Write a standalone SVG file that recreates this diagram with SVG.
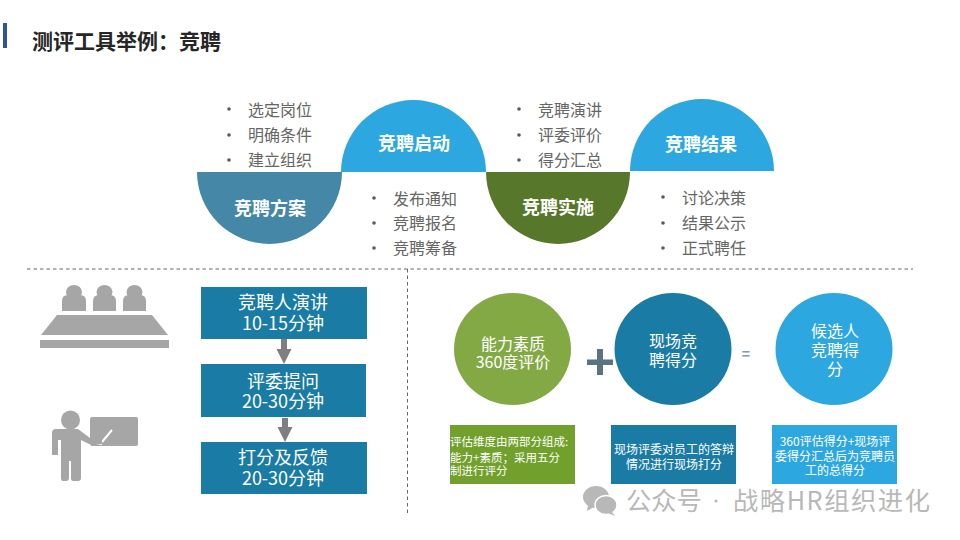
<svg xmlns="http://www.w3.org/2000/svg" width="960" height="540" viewBox="0 0 960 540">
<style>
text{font-family:"Noto Sans CJK SC","Noto Sans",sans-serif;text-anchor:middle}
.h{font-size:18px;font-weight:700;fill:#fff}
.b{font-size:16px;fill:#666;text-anchor:start}
.d{fill:#595959}
.w{font-size:16px;fill:#fff}
.x{font-size:18px;fill:#fff}
.m{font-size:12px;fill:#fff}
.l{font-size:11.500px;fill:#fff;text-anchor:start}
.g{fill:#a6a6a6}
.dash{fill:none;stroke:#404040;stroke-width:.8;stroke-dasharray:3.5 3}
.wm{font-size:25.300px;fill:#b8b8b8;text-anchor:start}
</style>
<rect width="960" height="540" fill="#fff"/>
<g id="title">
<rect x="3" y="23" width="4" height="25" fill="#2f5597"/>
<text x="32" y="49" font-size="21" font-weight="700" fill="#262626" style="text-anchor:start">测评工具举例：竞聘</text>
</g>
<g id="step-plan">
<path d="M197 172H342A72.500 72 0 0 1 197 172Z" fill="#4487a6"/>
<text class="h" x="270" y="214.500">竞聘方案</text>
<circle class="d" cx="229" cy="109" r="1.800"/><circle class="d" cx="229" cy="135" r="1.800"/><circle class="d" cx="229" cy="160" r="1.800"/>
<text class="b" x="248" y="115.500">选定岗位</text><text class="b" x="248" y="140.500">明确条件</text><text class="b" x="248" y="165.500">建立组织</text>
</g>
<g id="step-start">
<path d="M341 172A72.500 72 0 0 1 486 172Z" fill="#2da7e0"/>
<text class="h" x="414" y="149.500">竞聘启动</text>
<circle class="d" cx="374" cy="198" r="1.800"/><circle class="d" cx="374" cy="223" r="1.800"/><circle class="d" cx="374" cy="248" r="1.800"/>
<text class="b" x="393" y="204.500">发布通知</text><text class="b" x="393" y="229">竞聘报名</text><text class="b" x="393" y="254">竞聘筹备</text>
</g>
<g id="step-run">
<path d="M486 172H630A72 72 0 0 1 486 172Z" fill="#57782a"/>
<text class="h" x="558" y="213.500">竞聘实施</text>
<circle class="d" cx="519" cy="109" r="1.800"/><circle class="d" cx="519" cy="135" r="1.800"/><circle class="d" cx="519" cy="160" r="1.800"/>
<text class="b" x="538" y="115.500">竞聘演讲</text><text class="b" x="538" y="141">评委评价</text><text class="b" x="538" y="166">得分汇总</text>
</g>
<g id="step-result">
<path d="M630 171A72 72 0 0 1 774 171Z" fill="#2da7e0"/>
<text class="h" x="701" y="150.500">竞聘结果</text>
<circle class="d" cx="663" cy="197" r="1.800"/><circle class="d" cx="663" cy="223" r="1.800"/><circle class="d" cx="663" cy="248" r="1.800"/>
<text class="b" x="682" y="203.500">讨论决策</text><text class="b" x="682" y="229">结果公示</text><text class="b" x="682" y="254">正式聘任</text>
</g>
<g id="dividers">
<path class="dash" d="M27 269H913"/>
<path class="dash" d="M407.500 269V513"/>
</g>
<g id="icon-panel">
<ellipse class="g" cx="74" cy="292" rx="8" ry="7"/><ellipse class="g" cx="104.500" cy="292" rx="8" ry="7"/><ellipse class="g" cx="134.500" cy="292" rx="8" ry="7"/>
<path class="g" d="M62 311V301Q62 295 68 295H80Q86 295 86 301V311Z"/>
<path class="g" d="M93 311V301Q93 295 99 295H110Q116 295 116 301V311Z"/>
<path class="g" d="M123 311V301Q123 295 129 295H140Q146 295 146 301V311Z"/>
<path class="g" d="M57 315H152L168 335H41Z"/>
<rect class="g" x="40" y="340" width="129" height="8"/>
</g>
<g id="icon-presenter">
<rect class="g" x="90" y="417" width="48" height="29" rx="2"/>
<circle class="g" cx="70.500" cy="420" r="9.500"/>
<path d="M90 442L102 444M102 442L112 430" stroke="#fff" stroke-width="2" fill="none"/>
<path class="g" d="M56 429H78L90 438L102 440V444L89 444L81 440V478Q81 481 78 481H73Q71 481 71 478V461H69V478Q69 481 66 481H63Q61 481 61 478V440H58V455H52V433Q52 429 56 429Z"/>
</g>
<g id="box-speech">
<rect x="201" y="287" width="166" height="52" fill="#1a7ba5"/>
<text class="x" x="283" y="309">竞聘人演讲</text><text class="x" x="283" y="330">10-15分钟</text>
</g>
<g id="box-question">
<rect x="201" y="364" width="165" height="53" fill="#1a7ba5"/>
<text class="x" x="283" y="387.500">评委提问</text><text class="x" x="283" y="408">20-30分钟</text>
</g>
<g id="box-score">
<rect x="201" y="442" width="166" height="52" fill="#1a7ba5"/>
<text class="x" x="283" y="464">打分及反馈</text><text class="x" x="283" y="485">20-30分钟</text>
</g>
<g id="connectors">
<path d="M281 339H287V349H291.500L284 364L276.500 349H281Z" fill="#7f7f7f"/>
<path d="M282 418H288V427H292.500L285 442L277.500 427H282Z" fill="#7f7f7f"/>
</g>
<g id="circle-ability">
<ellipse cx="512.500" cy="349" rx="58.500" ry="56" fill="#83a945"/>
<text class="w" x="513" y="350">能力素质</text><text class="w" x="513" y="368">360度评价</text>
</g>
<g id="plus"><path d="M587 359.500H597V349H603V359.500H613V365H603V375H597V365H587Z" fill="#5a7282"/></g>
<g id="circle-live">
<ellipse cx="673" cy="349" rx="58.500" ry="56" fill="#1a7ba5"/>
<text class="w" x="673" y="347">现场竞</text><text class="w" x="673" y="366">聘得分</text>
</g>
<g id="equals"><text x="746" y="359" font-size="14" font-weight="700" fill="#7f9bad">=</text></g>
<g id="circle-total">
<ellipse cx="834" cy="349" rx="58.500" ry="56" fill="#2da7e0"/>
<text class="w" x="835" y="337">候选人</text><text class="w" x="835" y="356">竞聘得</text><text class="w" x="835" y="375">分</text>
</g>
<g id="note-ability">
<rect x="450" y="425" width="125" height="59" fill="#72a02c"/>
<text class="l" x="450" y="446">评估维度由两部分组成:</text><text class="l" x="450" y="462">能力+素质；采用五分</text><text class="l" x="450" y="475">制进行评分</text>
</g>
<g id="note-live">
<rect x="611" y="425" width="125" height="59" fill="#1a7ba5"/>
<text class="m" x="674" y="454">现场评委对员工的答辩</text><text class="m" x="674" y="469">情况进行现场打分</text>
</g>
<g id="note-total">
<rect x="772" y="425" width="125" height="59" fill="#2da7e0"/>
<text class="m" x="835" y="446">360评估得分+现场评</text><text class="m" x="835" y="461">委得分汇总后为竞聘员</text><text class="m" x="835" y="475">工的总得分</text>
</g>
<g id="watermark">
<ellipse cx="596" cy="497" rx="13" ry="11" fill="#b8b8b8"/>
<path d="M588 505L587 511L594 507Z" fill="#b8b8b8"/>
<ellipse cx="606" cy="505" rx="11" ry="9.500" fill="#b8b8b8" stroke="#fff" stroke-width="1.500"/>
<path d="M612 512L615 516L608 513Z" fill="#b8b8b8"/>
<text class="wm" x="626" y="510">公众号</text>
<circle cx="716" cy="501" r="1.500" fill="#b8b8b8"/>
<text class="wm" x="733" y="510" textLength="197">战略HR组织进化</text>
</g>
</svg>
